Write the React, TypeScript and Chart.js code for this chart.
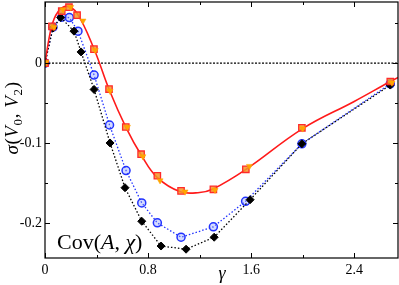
import React, { useEffect, useRef } from 'react';
import { Chart, registerables } from 'chart.js';

Chart.register(...registerables);

// ---- data ----
const xMajorTicks = [0, 0.8, 1.6, 2.4];
const xMinorTicks = [0.4, 1.2, 2.0];
const yMajorTicks = [0, -0.1, -0.2];
const yMinorTicks = [0.05, -0.05, -0.15];

const curveGamma = [0, 0.05, 0.1, 0.17, 0.25, 0.38, 0.5, 0.63, 0.75, 0.87, 1.05, 1.2, 1.3, 1.56, 2.0, 2.4, 2.68, 2.74];
const curveSigma = [0, 0.045, 0.064, 0.071, 0.062, 0.018, -0.034, -0.081, -0.116, -0.143, -0.161, -0.162, -0.158, -0.133, -0.082, -0.048, -0.023, -0.018];

const squareGamma = [0, 0.054, 0.13, 0.186, 0.249, 0.38, 0.497, 0.627, 0.746, 0.872, 1.056, 1.307, 1.559, 1.994, 2.68];
const squareSigma = [0, 0.046, 0.065, 0.07, 0.06, 0.0175, -0.0325, -0.08, -0.114, -0.141, -0.16, -0.158, -0.133, -0.081, -0.023];

const triGamma = [0.008, 0.07, 0.14, 0.2, 0.295, 0.39, 0.505, 0.64, 0.76, 0.893, 1.087, 1.32, 1.587, 2.0, 2.693];
const triSigma = [0.001, 0.045, 0.067, 0.07, 0.053, 0.016, -0.035, -0.08, -0.117, -0.147, -0.161, -0.159, -0.129, -0.082, -0.0246];

const blueGamma = [0, 0.062, 0.13, 0.189, 0.256, 0.381, 0.501, 0.629, 0.751, 0.872, 1.056, 1.307, 1.557, 1.994, 2.68];
const blueSigma = [0, 0.045, 0.0575, 0.057, 0.04, -0.015, -0.0775, -0.1346, -0.175, -0.2, -0.218, -0.205, -0.173, -0.101, -0.026];

const blackGamma = [0, 0.062, 0.122, 0.225, 0.28, 0.381, 0.505, 0.621, 0.751, 0.901, 1.095, 1.313, 1.592, 1.994, 2.68];
const blackSigma = [0, 0.044, 0.057, 0.04, 0.014, -0.033, -0.1, -0.156, -0.198, -0.229, -0.233, -0.218, -0.171, -0.101, -0.0275];

const zeroGamma = [0, 2.74];
const zeroSigma = [0, 0];

const X_MIN = 0;
const X_MAX = 2.74;
const Y_MIN = -0.244;
const Y_MAX = 0.0765;

const pts = (xs: number[], ys: number[]) => xs.map((x, i) => ({ x, y: ys[i] }));

const SERIF = '"Liberation Serif", "DejaVu Serif", serif';

type Part = { t: string; font: string; dy?: number };

function drawParts(
  ctx: CanvasRenderingContext2D,
  parts: Part[],
  x: number,
  y: number,
  align: 'left' | 'center',
  spacing = 0
) {
  let total = 0;
  for (const p of parts) {
    ctx.font = p.font;
    total += ctx.measureText(p.t).width + spacing * p.t.length;
  }
  let cx = align === 'center' ? x - total / 2 : x;
  ctx.textAlign = 'left';
  ctx.textBaseline = 'alphabetic';
  for (const p of parts) {
    ctx.font = p.font;
    for (const ch of p.t) {
      ctx.fillText(ch, cx, y + (p.dy || 0));
      cx += ctx.measureText(ch).width + spacing;
    }
  }
}

const framePlugin = {
  id: 'frame',
  afterDraw(chart: any) {
    const { ctx, chartArea, scales } = chart;
    const { left, right, top, bottom } = chartArea;
    const xs = scales.x;
    const ys = scales.y;
    ctx.save();
    ctx.strokeStyle = '#000';
    ctx.lineWidth = 1.2;
    ctx.strokeRect(left, top, right - left, bottom - top);
    ctx.lineWidth = 1;
    ctx.beginPath();
    const xt = (vals: number[], len: number) => {
      vals.forEach((v) => {
        const px = Math.round(xs.getPixelForValue(v)) + 0.5;
        ctx.moveTo(px, bottom);
        ctx.lineTo(px, bottom - len);
        ctx.moveTo(px, top);
        ctx.lineTo(px, top + len);
      });
    };
    const yt = (vals: number[], len: number) => {
      vals.forEach((v) => {
        const py = Math.round(ys.getPixelForValue(v)) + 0.5;
        ctx.moveTo(left, py);
        ctx.lineTo(left + len, py);
        ctx.moveTo(right, py);
        ctx.lineTo(right - len, py);
      });
    };
    xt(xMajorTicks, 5);
    xt(xMinorTicks, 3);
    yt(yMajorTicks, 5);
    yt(yMinorTicks, 3);
    ctx.stroke();

    ctx.fillStyle = '#000';
    // x axis title
    drawParts(ctx, [{ t: 'γ', font: `italic 18px ${SERIF}` }], 222, 279, 'center');
    // y axis title
    ctx.save();
    ctx.translate(18, 118);
    ctx.rotate(-Math.PI / 2);
    drawParts(
      ctx,
      [
        { t: 'σ', font: `italic 19px ${SERIF}` },
        { t: '(', font: `19px ${SERIF}` },
        { t: 'V', font: `italic 19px ${SERIF}` },
        { t: '0', font: `13px ${SERIF}`, dy: 4 },
        { t: ', ', font: `19px ${SERIF}` },
        { t: 'V', font: `italic 19px ${SERIF}` },
        { t: '2', font: `13px ${SERIF}`, dy: 4 },
        { t: ')', font: `19px ${SERIF}` },
      ],
      0,
      0,
      'center',
      0.6
    );
    ctx.restore();
    // annotation
    drawParts(
      ctx,
      [
        { t: 'Cov(', font: `22px ${SERIF}` },
        { t: 'A', font: `italic 22px ${SERIF}` },
        { t: ', ', font: `22px ${SERIF}` },
        { t: 'χ', font: `italic 22px ${SERIF}` },
        { t: ')', font: `22px ${SERIF}` },
      ],
      57,
      249,
      'left',
      0
    );
    ctx.restore();
  },
};

export default function App() {
  const ref = useRef<HTMLCanvasElement | null>(null);

  useEffect(() => {
    if (!ref.current) return;
    const chart = new Chart(ref.current, {
      type: 'scatter',
      data: {
        datasets: [
          {
            label: 'zero',
            data: pts(zeroGamma, zeroSigma),
            showLine: true,
            borderColor: '#000',
            borderWidth: 1.2,
            borderDash: [2, 1.5],
            pointRadius: 0,
            order: 10,
          },
          {
            label: 'black',
            data: pts(blackGamma, blackSigma),
            showLine: true,
            borderColor: '#000',
            borderWidth: 1.3,
            borderDash: [1.5, 2],
            pointStyle: 'rectRot',
            pointRadius: 4,
            pointBackgroundColor: '#000',
            pointBorderColor: '#000',
            pointBorderWidth: 1,
            order: 8,
          },
          {
            label: 'blue',
            data: pts(blueGamma, blueSigma),
            showLine: true,
            borderColor: '#2233ff',
            borderWidth: 1.3,
            borderDash: [1.5, 2],
            pointStyle: 'circle',
            pointRadius: 4,
            pointBackgroundColor: 'rgba(130,150,255,0.35)',
            pointBorderColor: '#2233ff',
            pointBorderWidth: 1.5,
            order: 9,
          },
          {
            label: 'curve',
            data: pts(curveGamma, curveSigma),
            showLine: true,
            borderColor: '#ff1a1a',
            borderWidth: 1.6,
            tension: 0.4,
            pointRadius: 0,
            order: 6,
          },
          {
            label: 'squares',
            data: pts(squareGamma, squareSigma),
            showLine: false,
            pointStyle: 'rect',
            pointRadius: 4.5,
            pointBackgroundColor: 'rgba(245,150,40,0.85)',
            pointBorderColor: '#ff2a2a',
            pointBorderWidth: 1.3,
            order: 5,
          },
          {
            label: 'triangles',
            data: pts(triGamma, triSigma),
            showLine: false,
            pointStyle: 'triangle',
            rotation: 180,
            pointRadius: 3.5,
            pointBackgroundColor: '#ffa500',
            pointBorderColor: '#ffa500',
            pointBorderWidth: 0.5,
            order: 4,
          },
        ] as any,
      },
      options: {
        animation: false,
        responsive: false,
        maintainAspectRatio: false,
        layout: { autoPadding: false, padding: { left: 0, right: 1, top: 2, bottom: 0 } },
        plugins: {
          legend: { display: false },
          tooltip: { enabled: false },
        },
        scales: {
          x: {
            type: 'linear',
            min: X_MIN,
            max: X_MAX,
            grid: { display: false, drawTicks: false },
            border: { display: false },
            afterFit: (s: any) => {
              s.height = 27;
              s.paddingLeft = 0;
              s.paddingRight = 0;
              s.paddingTop = 0;
              s.paddingBottom = 0;
            },
            afterBuildTicks: (s: any) => {
              s.ticks = xMajorTicks.map((v) => ({ value: v }));
            },
            ticks: {
              padding: 4,
              maxRotation: 0,
              autoSkip: false,
              color: '#000',
              font: { family: SERIF, size: 14 },
              callback: (v: any) => String(v),
            },
          },
          y: {
            type: 'linear',
            min: Y_MIN,
            max: Y_MAX,
            grid: { display: false, drawTicks: false },
            border: { display: false },
            afterFit: (s: any) => {
              s.width = 45;
              s.paddingLeft = 0;
              s.paddingRight = 0;
              s.paddingTop = 0;
              s.paddingBottom = 0;
            },
            afterBuildTicks: (s: any) => {
              s.ticks = yMajorTicks.map((v) => ({ value: v }));
            },
            ticks: {
              padding: 3,
              autoSkip: false,
              color: '#000',
              font: { family: SERIF, size: 14 },
              callback: (v: any) => String(v),
            },
          },
        },
      } as any,
      plugins: [framePlugin],
    });
    return () => chart.destroy();
  }, []);

  return (
    <div style={{ position: 'fixed', left: 0, top: 0, width: 399, height: 285, background: '#fff' }}>
      <canvas ref={ref} width={399} height={285} style={{ width: 399, height: 285 }} />
    </div>
  );
}
